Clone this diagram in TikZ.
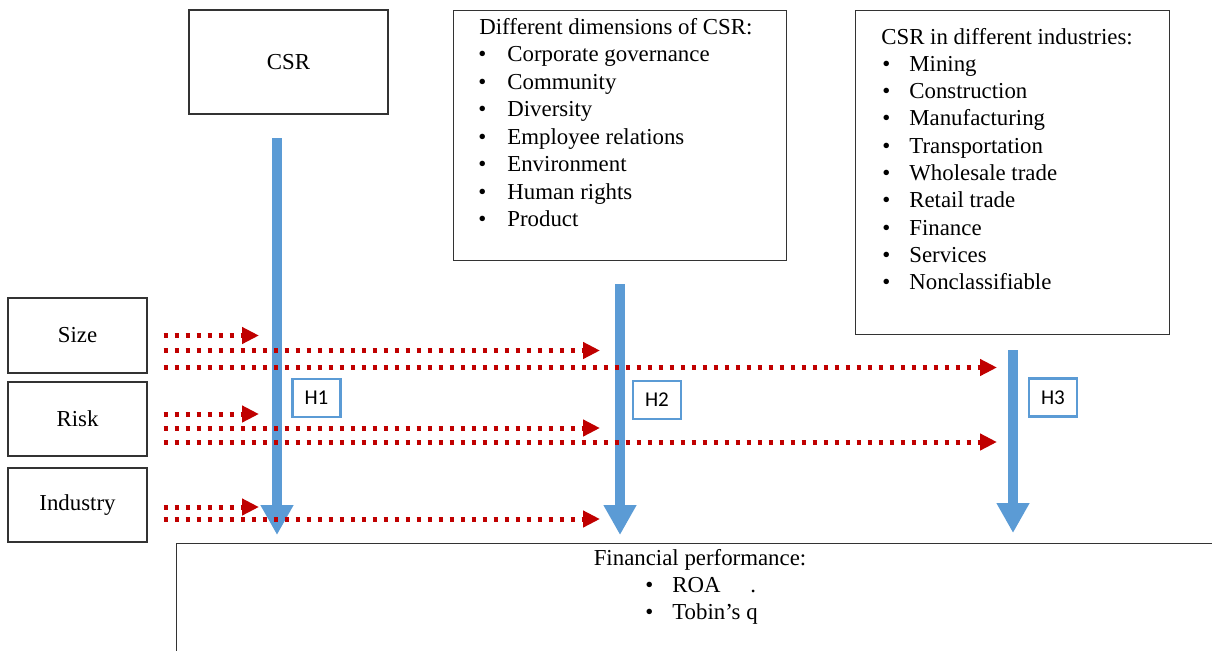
\documentclass[tikz,border=0pt]{standalone}
\usepackage{fontspec}
\setmainfont{Liberation Serif}
\newfontfamily\hfont{Carlito}
\usetikzlibrary{arrows.meta,positioning}

\definecolor{csrblue}{HTML}{5B9BD5}
\definecolor{ctrlred}{HTML}{C00000}

\tikzset{
    box/.style={draw=black!80, line width=0.8pt, inner sep=0pt, font=\fontsize{13pt}{15pt}\selectfont},
    txt/.style={anchor=base west, inner sep=0pt, font=\fontsize{13pt}{15pt}\selectfont},
    hbox/.style={draw=csrblue, line width=1.2pt, fill=white, minimum width=0.96cm, minimum height=0.76cm, inner sep=0pt, font=\hfont\fontsize{12pt}{14pt}\selectfont},
    mainarrow/.style={csrblue, line width=0.2cm, -{Triangle[length=0.6cm, width=0.62cm]}},
    ctrlarrow/.style={ctrlred, line width=0.1cm, dash pattern=on 0.09cm off 0.13cm, -{Triangle[length=0.34cm, width=0.32cm]}}
}

\begin{document}
\begin{tikzpicture}[x=0.02cm, y=-0.02cm]
            \clip (0,0) rectangle (1212,650);

            % kontrolne premenne
            \node[box, minimum width=2.78cm, minimum height=1.5cm] (size) at (77.5, 335.5) {Size};
            \node[box, minimum width=2.78cm, minimum height=1.48cm] (risk) at (77.5, 419) {Risk};
            \node[box, minimum width=2.78cm, minimum height=1.48cm] (industry) at (77.5, 505) {Industry};

            % CSR
            \node[box, minimum width=3.98cm, minimum height=2.08cm] (csr) at (288.5, 62) {CSR};

            % dimenzie CSR
            \node[box, anchor=north west, minimum width=6.66cm, minimum height=5cm] (dims) at (453, 10) {};
            \node[txt] (dimtitle) at (479, 34) {Different dimensions of CSR:};
            \foreach \t [count=\i] in {Corporate governance, Community, Diversity, Employee relations, Environment, Human rights, Product}{
                \node[txt] (dimbul\i) at (478, {34+27.5*\i}) {\textbullet};
                \node[txt] (dim\i) at (507, {34+27.5*\i}) {\t};
            }

            % odvetvia
            \node[box, anchor=north west, minimum width=6.28cm, minimum height=6.48cm] (inds) at (855, 10) {};
            \node[txt] (indtitle) at (881, 44) {CSR in different industries:};
            \foreach \t [count=\i] in {Mining, Construction, Manufacturing, Transportation, Wholesale trade, Retail trade, Finance, Services, Nonclassifiable}{
                \node[txt] (indbul\i) at (882, {44+27.3*\i}) {\textbullet};
                \node[txt] (ind\i) at (909, {44+27.3*\i}) {\t};
            }

            % financna vykonnost
            \node[box, anchor=north west, minimum width=21.5cm, minimum height=3cm] (perf) at (176, 543) {};
            \node[txt, anchor=base] (perftitle) at (700, 565) {Financial performance:};
            \node[txt] (perfbul1) at (645, 592) {\textbullet};
            \node[txt] (roa) at (672, 592) {ROA};
            \node[txt] (dot) at (750, 592) {.};
            \node[txt] (perfbul2) at (645, 619) {\textbullet};
            \node[txt] (tobin) at (672, 619) {Tobin’s q};

            % hypotezy
            \coordinate (h1top) at (277, 138);
            \coordinate (h1tip) at (277, 535);
            \coordinate (h2top) at (620, 284);
            \coordinate (h2tip) at (620, 535);
            \coordinate (h3top) at (1013, 350);
            \coordinate (h3tip) at (1013, 533);
            \draw[mainarrow] (h1top) -- (h1tip);
            \draw[mainarrow] (h2top) -- (h2tip);
            \draw[mainarrow] (h3top) -- (h3tip);

            % bodkovane sipky
            \coordinate (t1) at (259, 0);
            \coordinate (t2) at (600, 0);
            \coordinate (t3) at (997, 0);
            \foreach \n/\dy/\t in {size/0/t1, size/-0.3/t2, size/-0.64/t3, risk/0.1/t1, risk/-0.18/t2, risk/-0.46/t3, industry/-0.04/t1, industry/-0.28/t2}{
                \draw[ctrlarrow] ([shift={(0.32cm,\dy cm)}]\n.east) coordinate (s) -- (s -| \t);
            }

            \node[hbox] (h1) at (316.5, 398) {H1};
            \node[hbox] (h2) at (657, 400) {H2};
            \node[hbox] (h3) at (1053, 397.5) {H3};

        \end{tikzpicture}
\end{document}
